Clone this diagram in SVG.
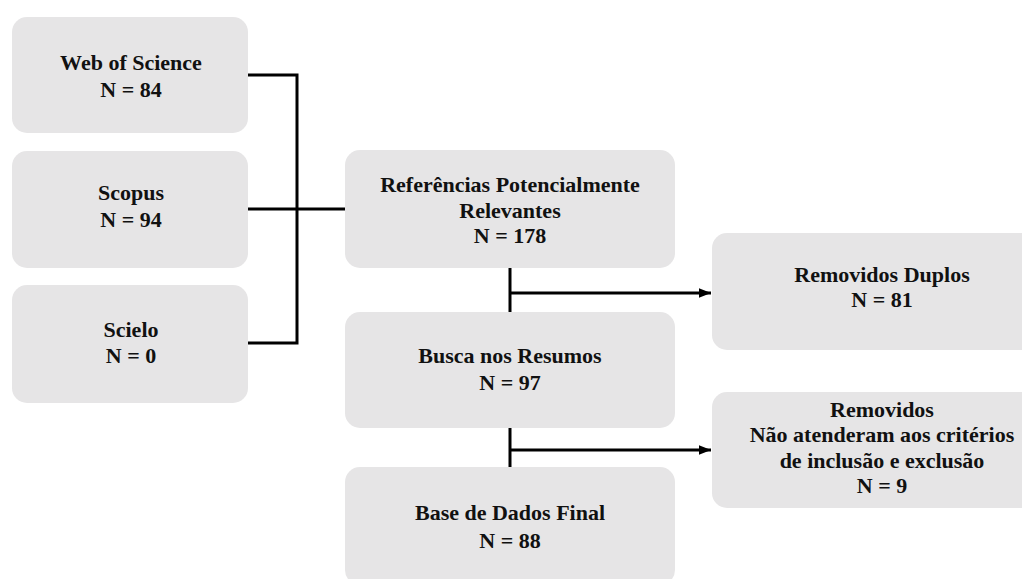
<svg xmlns="http://www.w3.org/2000/svg" width="1022" height="579" viewBox="0 0 1022 579">
<defs>
<style>
.box{fill:#e6e5e6;}
.t{font-family:'Liberation Serif','DejaVu Serif',serif;font-weight:700;font-size:22px;fill:#111;text-anchor:middle;}
.c{fill:none;stroke:#000;stroke-width:3;}
</style>
<marker id="ah" viewBox="0 0 10 10" refX="10" refY="5" markerWidth="4" markerHeight="4" orient="auto" markerUnits="strokeWidth">
<path d="M0,1 L10,5 L0,9 z" fill="#000"/>
</marker>
</defs>
<rect width="1022" height="579" fill="#fff"/>
<g id="wos"><rect class="box" x="12" y="17" width="236" height="116" rx="15"/>
<text class="t" x="131" y="70">Web of Science</text><text class="t" x="131" y="97">N = 84</text></g>
<g id="scopus"><rect class="box" x="12" y="151" width="236" height="117" rx="15"/>
<text class="t" x="131" y="200">Scopus</text><text class="t" x="131" y="227">N = 94</text></g>
<g id="scielo"><rect class="box" x="12" y="285" width="236" height="118" rx="15"/>
<text class="t" x="131" y="337">Scielo</text><text class="t" x="131" y="363">N = 0</text></g>
<g id="ref"><rect class="box" x="345" y="150" width="330" height="118" rx="15"/>
<text class="t" x="510" y="192">Referências Potencialmente</text><text class="t" x="510" y="218">Relevantes</text><text class="t" x="510" y="243">N = 178</text></g>
<g id="busca"><rect class="box" x="345" y="312" width="330" height="116" rx="15"/>
<text class="t" x="510" y="363">Busca nos Resumos</text><text class="t" x="510" y="390">N = 97</text></g>
<g id="base"><rect class="box" x="345" y="467" width="330" height="118" rx="15"/>
<text class="t" x="510" y="520">Base de Dados Final</text><text class="t" x="510" y="548">N = 88</text></g>
<g id="dup"><rect class="box" x="712" y="233" width="340" height="117" rx="15"/>
<text class="t" x="882" y="282">Removidos Duplos</text><text class="t" x="882" y="307">N = 81</text></g>
<g id="rem"><rect class="box" x="712" y="392" width="340" height="116" rx="15"/>
<text class="t" x="882" y="417">Removidos</text><text class="t" x="882" y="442">Não atenderam aos critérios</text><text class="t" x="882" y="468">de inclusão e exclusão</text><text class="t" x="882" y="493">N = 9</text></g>
<g id="connectors">
<path class="c" d="M248,75 H297 V343 H248"/>
<path class="c" d="M248,209 H345"/>
<path class="c" d="M510,268 V312"/>
<path class="c" d="M510,293 H711" marker-end="url(#ah)"/>
<path class="c" d="M510,428 V467"/>
<path class="c" d="M510,450 H711" marker-end="url(#ah)"/>
</g>
</svg>
